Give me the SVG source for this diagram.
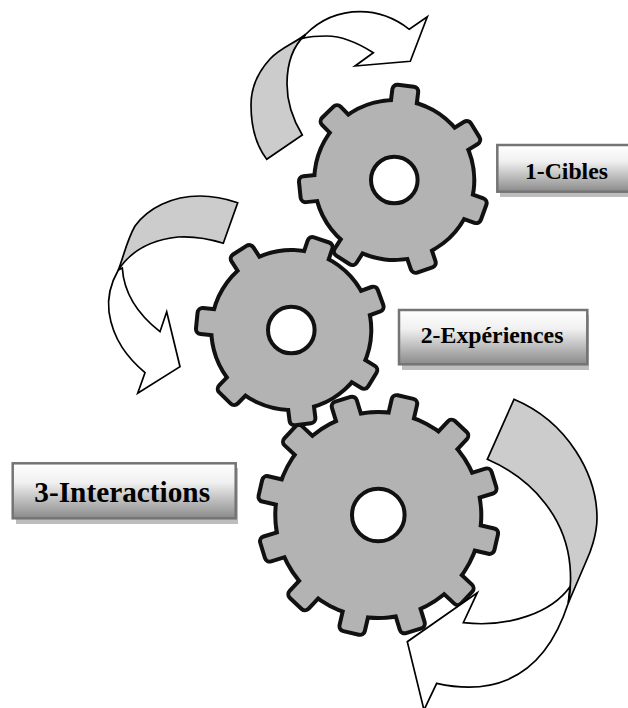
<svg xmlns="http://www.w3.org/2000/svg" width="628" height="708" viewBox="0 0 628 708">
<style>
.edge{fill:#111;stroke:#111;stroke-width:8;stroke-linejoin:round}
.face{fill:#b3b3b3;stroke:none}
.hole{fill:#fff;stroke:#111;stroke-width:4}
.aw{fill:#fff;stroke:#000;stroke-width:1.7;stroke-linejoin:miter}
.ag{fill:#ccc;stroke:#000;stroke-width:1.7;stroke-linejoin:miter}
.shadow{fill:#bdbdbd}
.box{fill:url(#boxfill);stroke:#747474;stroke-width:2.5}
.lbl{font-family:"Liberation Serif","Times New Roman",serif;font-weight:bold;fill:#000}
</style>
<defs>
<linearGradient id="boxfill" x1="0" y1="0" x2="0" y2="1">
<stop offset="0" stop-color="#fff"/><stop offset="0.35" stop-color="#f0f0f0"/><stop offset="1" stop-color="#8a8a8a"/>
</linearGradient>
<rect id="t7" x="70" y="-11" width="23" height="22" rx="3"/>
<g id="gear7">
<circle r="78"/>
<use href="#t7"/><use href="#t7" transform="rotate(51.43)"/><use href="#t7" transform="rotate(102.86)"/><use href="#t7" transform="rotate(154.29)"/><use href="#t7" transform="rotate(205.71)"/><use href="#t7" transform="rotate(257.14)"/><use href="#t7" transform="rotate(308.57)"/>
</g>
<rect id="t12" x="92" y="-11" width="27" height="22" rx="3"/>
<g id="gear12">
<circle r="101"/>
<use href="#t12"/><use href="#t12" transform="rotate(30)"/><use href="#t12" transform="rotate(60)"/><use href="#t12" transform="rotate(90)"/><use href="#t12" transform="rotate(120)"/><use href="#t12" transform="rotate(150)"/><use href="#t12" transform="rotate(180)"/><use href="#t12" transform="rotate(210)"/><use href="#t12" transform="rotate(240)"/><use href="#t12" transform="rotate(270)"/><use href="#t12" transform="rotate(300)"/><use href="#t12" transform="rotate(330)"/>
</g>
</defs>
<rect width="628" height="708" fill="#fff"/>
<g id="gear-3">
<g transform="translate(378.3 515) rotate(-17)"><use href="#gear12" class="edge"/><use href="#gear12" class="face"/></g>
<circle class="hole" cx="378.3" cy="515" r="26.3"/>
</g>
<g id="gear-2">
<g transform="translate(291.3 330) rotate(-20)"><use href="#gear7" class="edge"/><use href="#gear7" class="face"/></g>
<circle class="hole" cx="291.3" cy="330" r="23.3"/>
</g>
<g id="gear-1">
<g transform="translate(394.3 180) rotate(-83)"><use href="#gear7" class="edge"/><use href="#gear7" class="face"/></g>
<circle class="hole" cx="394.3" cy="180" r="23.3"/>
</g>
<g id="connectors">
<g id="arrow-1">
<path class="aw" d="M305.5 34.5C322 18 340 11.7 360 11.7C380 11.7 396 19 409.3 29.3L427.3 16.7L410.3 61.3L355 66L373.3 52.7C358 43 343 36 326.7 36C318 36 310 36.5 303 38.3Z"/>
<path class="ag" d="M266.7 159.3C252 140 251 118 251 105C251 88 258 72 270 59C280 48 295 43 305.5 34.5C293 46 287 62 287 84C287 102 292 118 302.3 135Z"/>
</g>
<g id="arrow-2">
<path class="aw" d="M118.3 270C108 288 108 304 109 312C113 340 128 358 145 372.7L137.7 393.3L180 366.7L166.7 311.7L160 331.7C140 316 124 295 122.3 268Z"/>
<path class="ag" d="M237.7 202.7C224 198 212 196 200 196C172 196 148 208 135 226C127 240 124 255 118.3 270C130 252 150 240 178 237C195 236 210 239 223.3 243.3Z"/>
</g>
<g id="arrow-3">
<path class="aw" d="M570 586.7C552 612 510 628 463.3 622.7L477.3 592.7L407.3 641.7L424 710L436.7 683.3C480 693 540 690 568.3 603Z"/>
<path class="ag" d="M514 399.3C568 422 597 475 597 518C597 535 590 553 586.7 560L568.3 603C571 590 571 578 570 566C566 520 535 480 487.3 459.3Z"/>
</g>
</g>
<g id="label-1">
<rect class="shadow" x="500" y="150" width="128" height="47"/>
<rect class="box" x="497.3" y="145" width="132" height="46.7"/>
<text class="lbl" x="525" y="179.3" font-size="23.7">1-Cibles</text>
</g>
<g id="label-2">
<rect class="shadow" x="402" y="315" width="187" height="55"/>
<rect class="box" x="399" y="310" width="188.3" height="54.3"/>
<text class="lbl" x="420.7" y="342.7" font-size="23.8">2-Expériences</text>
</g>
<g id="label-3">
<rect class="shadow" x="16" y="468" width="222" height="56"/>
<rect class="box" x="12.7" y="463.3" width="223" height="55"/>
<text class="lbl" x="34.3" y="501.7" font-size="29.3">3-Interactions</text>
</g>
</svg>
